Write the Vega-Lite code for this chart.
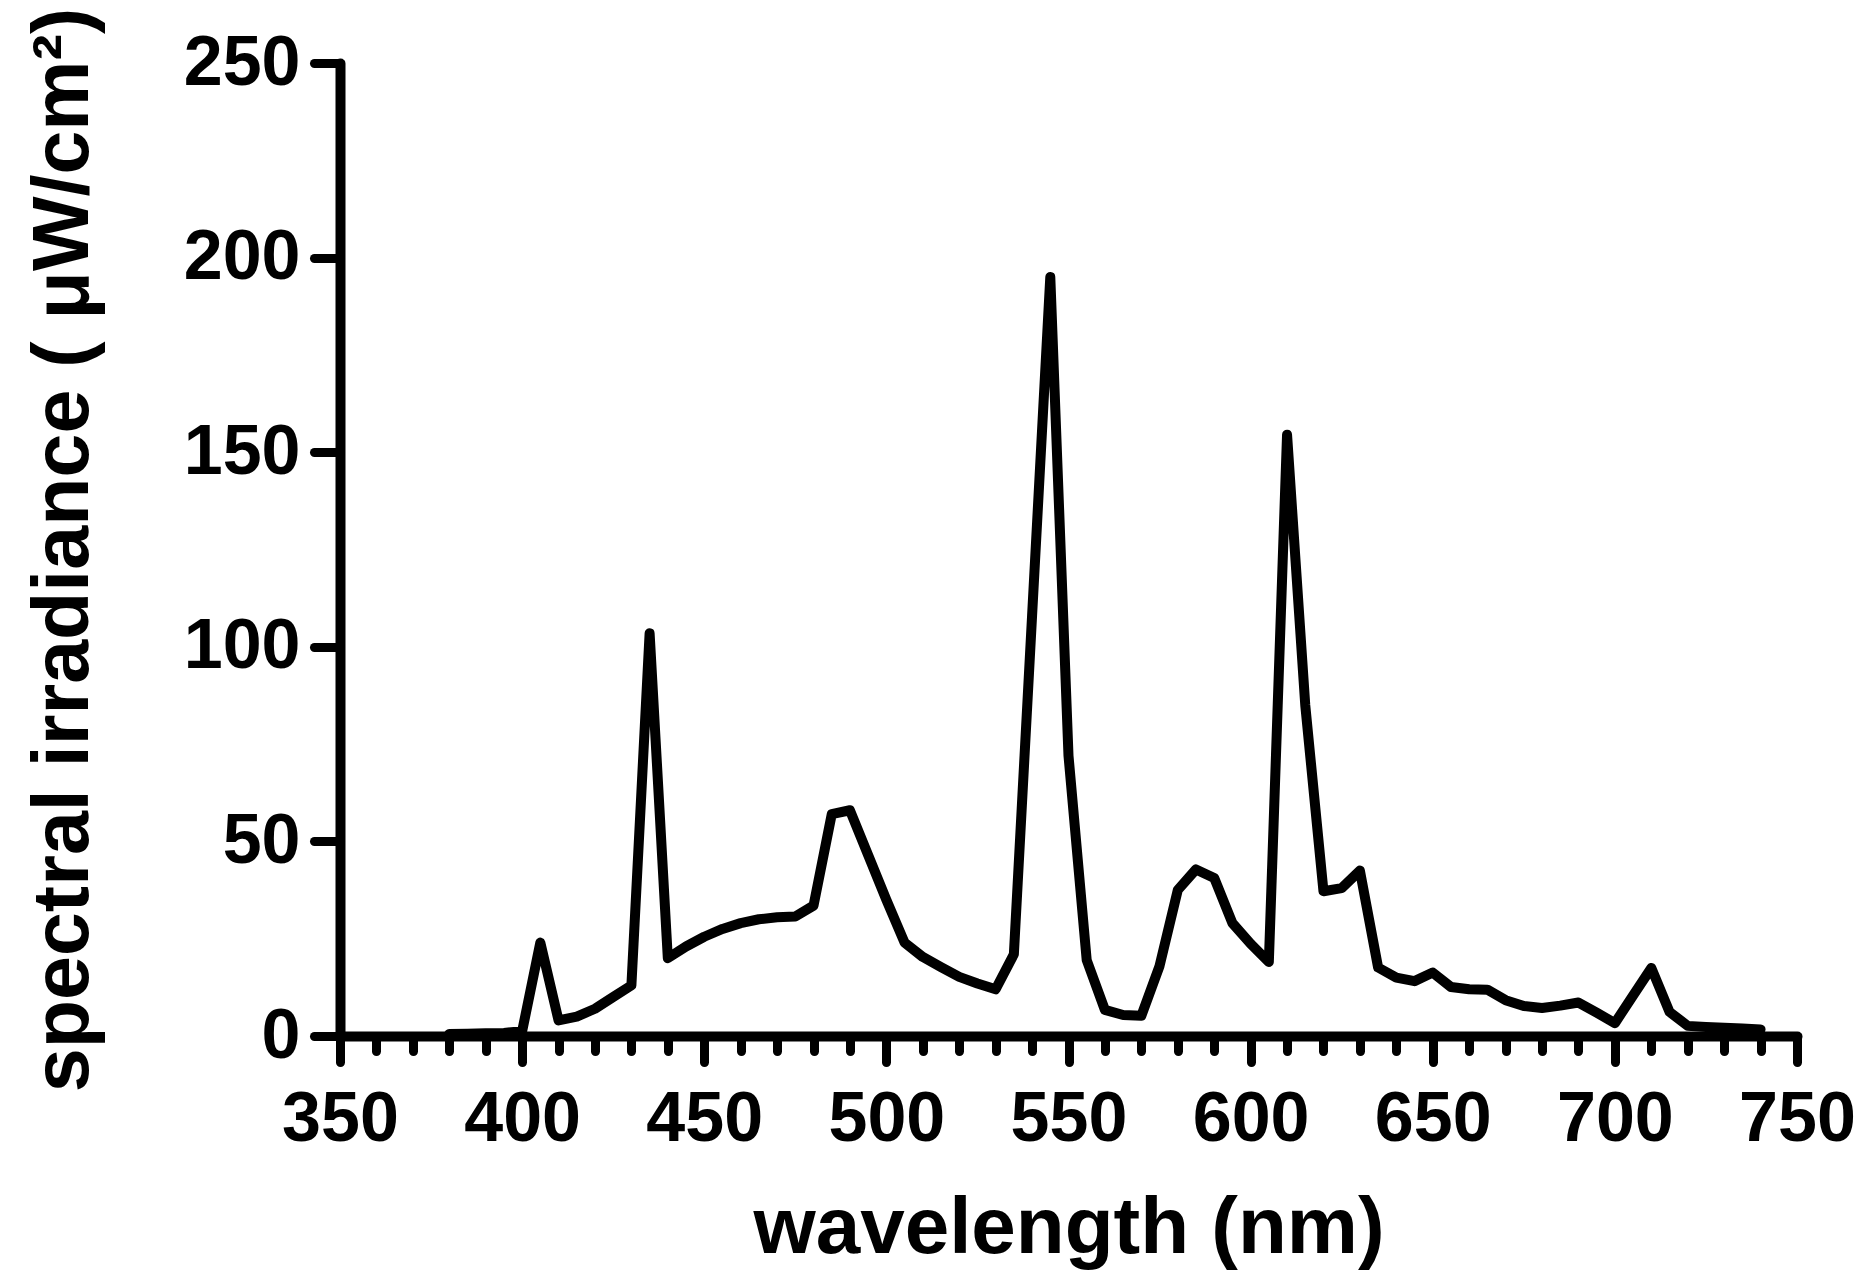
{
  "$schema": "https://vega.github.io/schema/vega-lite/v6.json",
  "width": 1457,
  "height": 973,
  "autosize": {"type": "none"},
  "padding": {"left": 340, "top": 63, "right": 62, "bottom": 239},
  "background": "white",
  "config": {"view": {"stroke": null}, "font": "Liberation Sans"},
  "data": {
    "values": [
      {"nm": 380, "irr": 0.5}, {"nm": 385, "irr": 0.6}, {"nm": 390, "irr": 0.7}, {"nm": 395, "irr": 0.8},
      {"nm": 400, "irr": 1.2}, {"nm": 405, "irr": 24}, {"nm": 410, "irr": 4}, {"nm": 415, "irr": 5},
      {"nm": 420, "irr": 7}, {"nm": 425, "irr": 10}, {"nm": 430, "irr": 13}, {"nm": 435, "irr": 103.5},
      {"nm": 440, "irr": 20}, {"nm": 445, "irr": 23}, {"nm": 450, "irr": 25.5}, {"nm": 455, "irr": 27.5},
      {"nm": 460, "irr": 29}, {"nm": 465, "irr": 30}, {"nm": 470, "irr": 30.5}, {"nm": 475, "irr": 30.7},
      {"nm": 480, "irr": 33.5}, {"nm": 485, "irr": 57}, {"nm": 490, "irr": 58}, {"nm": 495, "irr": 46.5},
      {"nm": 500, "irr": 35}, {"nm": 505, "irr": 24}, {"nm": 510, "irr": 20.3}, {"nm": 515, "irr": 17.7},
      {"nm": 520, "irr": 15.2}, {"nm": 525, "irr": 13.5}, {"nm": 530, "irr": 12}, {"nm": 535, "irr": 21},
      {"nm": 540, "irr": 108}, {"nm": 545, "irr": 195}, {"nm": 550, "irr": 72}, {"nm": 555, "irr": 19.5},
      {"nm": 560, "irr": 6.7}, {"nm": 565, "irr": 5.4}, {"nm": 570, "irr": 5.2}, {"nm": 575, "irr": 18},
      {"nm": 580, "irr": 37.5}, {"nm": 585, "irr": 42.8}, {"nm": 590, "irr": 40.6}, {"nm": 595, "irr": 29},
      {"nm": 600, "irr": 23.7}, {"nm": 605, "irr": 19}, {"nm": 610, "irr": 154.5}, {"nm": 615, "irr": 85},
      {"nm": 620, "irr": 37.2}, {"nm": 625, "irr": 38}, {"nm": 630, "irr": 42.5}, {"nm": 635, "irr": 17.6},
      {"nm": 640, "irr": 15}, {"nm": 645, "irr": 14.1}, {"nm": 650, "irr": 16.3}, {"nm": 655, "irr": 12.6},
      {"nm": 660, "irr": 12}, {"nm": 665, "irr": 11.9}, {"nm": 670, "irr": 9.2}, {"nm": 675, "irr": 7.7},
      {"nm": 680, "irr": 7.2}, {"nm": 685, "irr": 7.8}, {"nm": 690, "irr": 8.6}, {"nm": 695, "irr": 6},
      {"nm": 700, "irr": 3.3}, {"nm": 705, "irr": 10.4}, {"nm": 710, "irr": 17.5}, {"nm": 715, "irr": 6.2},
      {"nm": 720, "irr": 2.6}, {"nm": 725, "irr": 2.3}, {"nm": 730, "irr": 2.1}, {"nm": 735, "irr": 1.9},
      {"nm": 740, "irr": 1.7}
    ]
  },
  "layer": [
    {
      "mark": {"type": "line", "color": "black", "strokeWidth": 10, "strokeJoin": "round", "strokeCap": "round"},
      "encoding": {
        "x": {
          "field": "nm", "type": "quantitative",
          "scale": {"domain": [350, 750], "nice": false, "zero": false},
          "axis": {
            "orient": "bottom",
            "values": [350, 400, 450, 500, 550, 600, 650, 700, 750],
            "grid": false,
            "domainColor": "black", "domainWidth": 10, "domainCap": "round",
            "tickColor": "black", "tickWidth": 9, "tickSize": 26, "tickCap": "round",
            "labelFont": "Liberation Sans", "labelFontWeight": "bold", "labelFontSize": 70,
            "labelColor": "black", "labelPadding": 23, "labelFlush": false, "labelOverlap": false,
            "title": "wavelength (nm)",
            "titleFont": "Liberation Sans", "titleFontWeight": "bold", "titleFontSize": 80,
            "titleColor": "black", "titleX": 728.5, "titleY": 216,
            "titleBaseline": "alphabetic", "titleAlign": "center"
          }
        },
        "y": {
          "field": "irr", "type": "quantitative",
          "scale": {"domain": [0, 250], "nice": false},
          "axis": {
            "values": [0, 50, 100, 150, 200, 250],
            "grid": false,
            "domainColor": "black", "domainWidth": 10, "domainCap": "round",
            "tickColor": "black", "tickWidth": 9, "tickSize": 26, "tickCap": "round",
            "labelFont": "Liberation Sans", "labelFontWeight": "bold", "labelFontSize": 70,
            "labelColor": "black", "labelPadding": 14, "labelOverlap": false, "labelFlush": false,
            "title": "spectral irradiance ( μW/cm²)",
            "titleFont": "Liberation Sans", "titleFontWeight": "bold", "titleFontSize": 79,
            "titleColor": "black", "titleX": -253, "titleY": 486.5, "titleAngle": -90,
            "titleBaseline": "alphabetic", "titleAlign": "center"
          }
        }
      }
    },
    {
      "mark": {"type": "point", "opacity": 0},
      "encoding": {
        "x": {
          "field": "nm", "type": "quantitative",
          "axis": {
            "orient": "bottom",
            "values": [360, 370, 380, 390, 410, 420, 430, 440, 460, 470, 480, 490, 510, 520, 530, 540, 560, 570, 580, 590, 610, 620, 630, 640, 660, 670, 680, 690, 710, 720, 730, 740],
            "grid": false, "domain": false, "labels": false,
            "tickColor": "black", "tickWidth": 9, "tickSize": 15, "tickCap": "round",
            "title": null
          }
        }
      }
    }
  ],
  "resolve": {"axis": {"x": "independent"}}
}
